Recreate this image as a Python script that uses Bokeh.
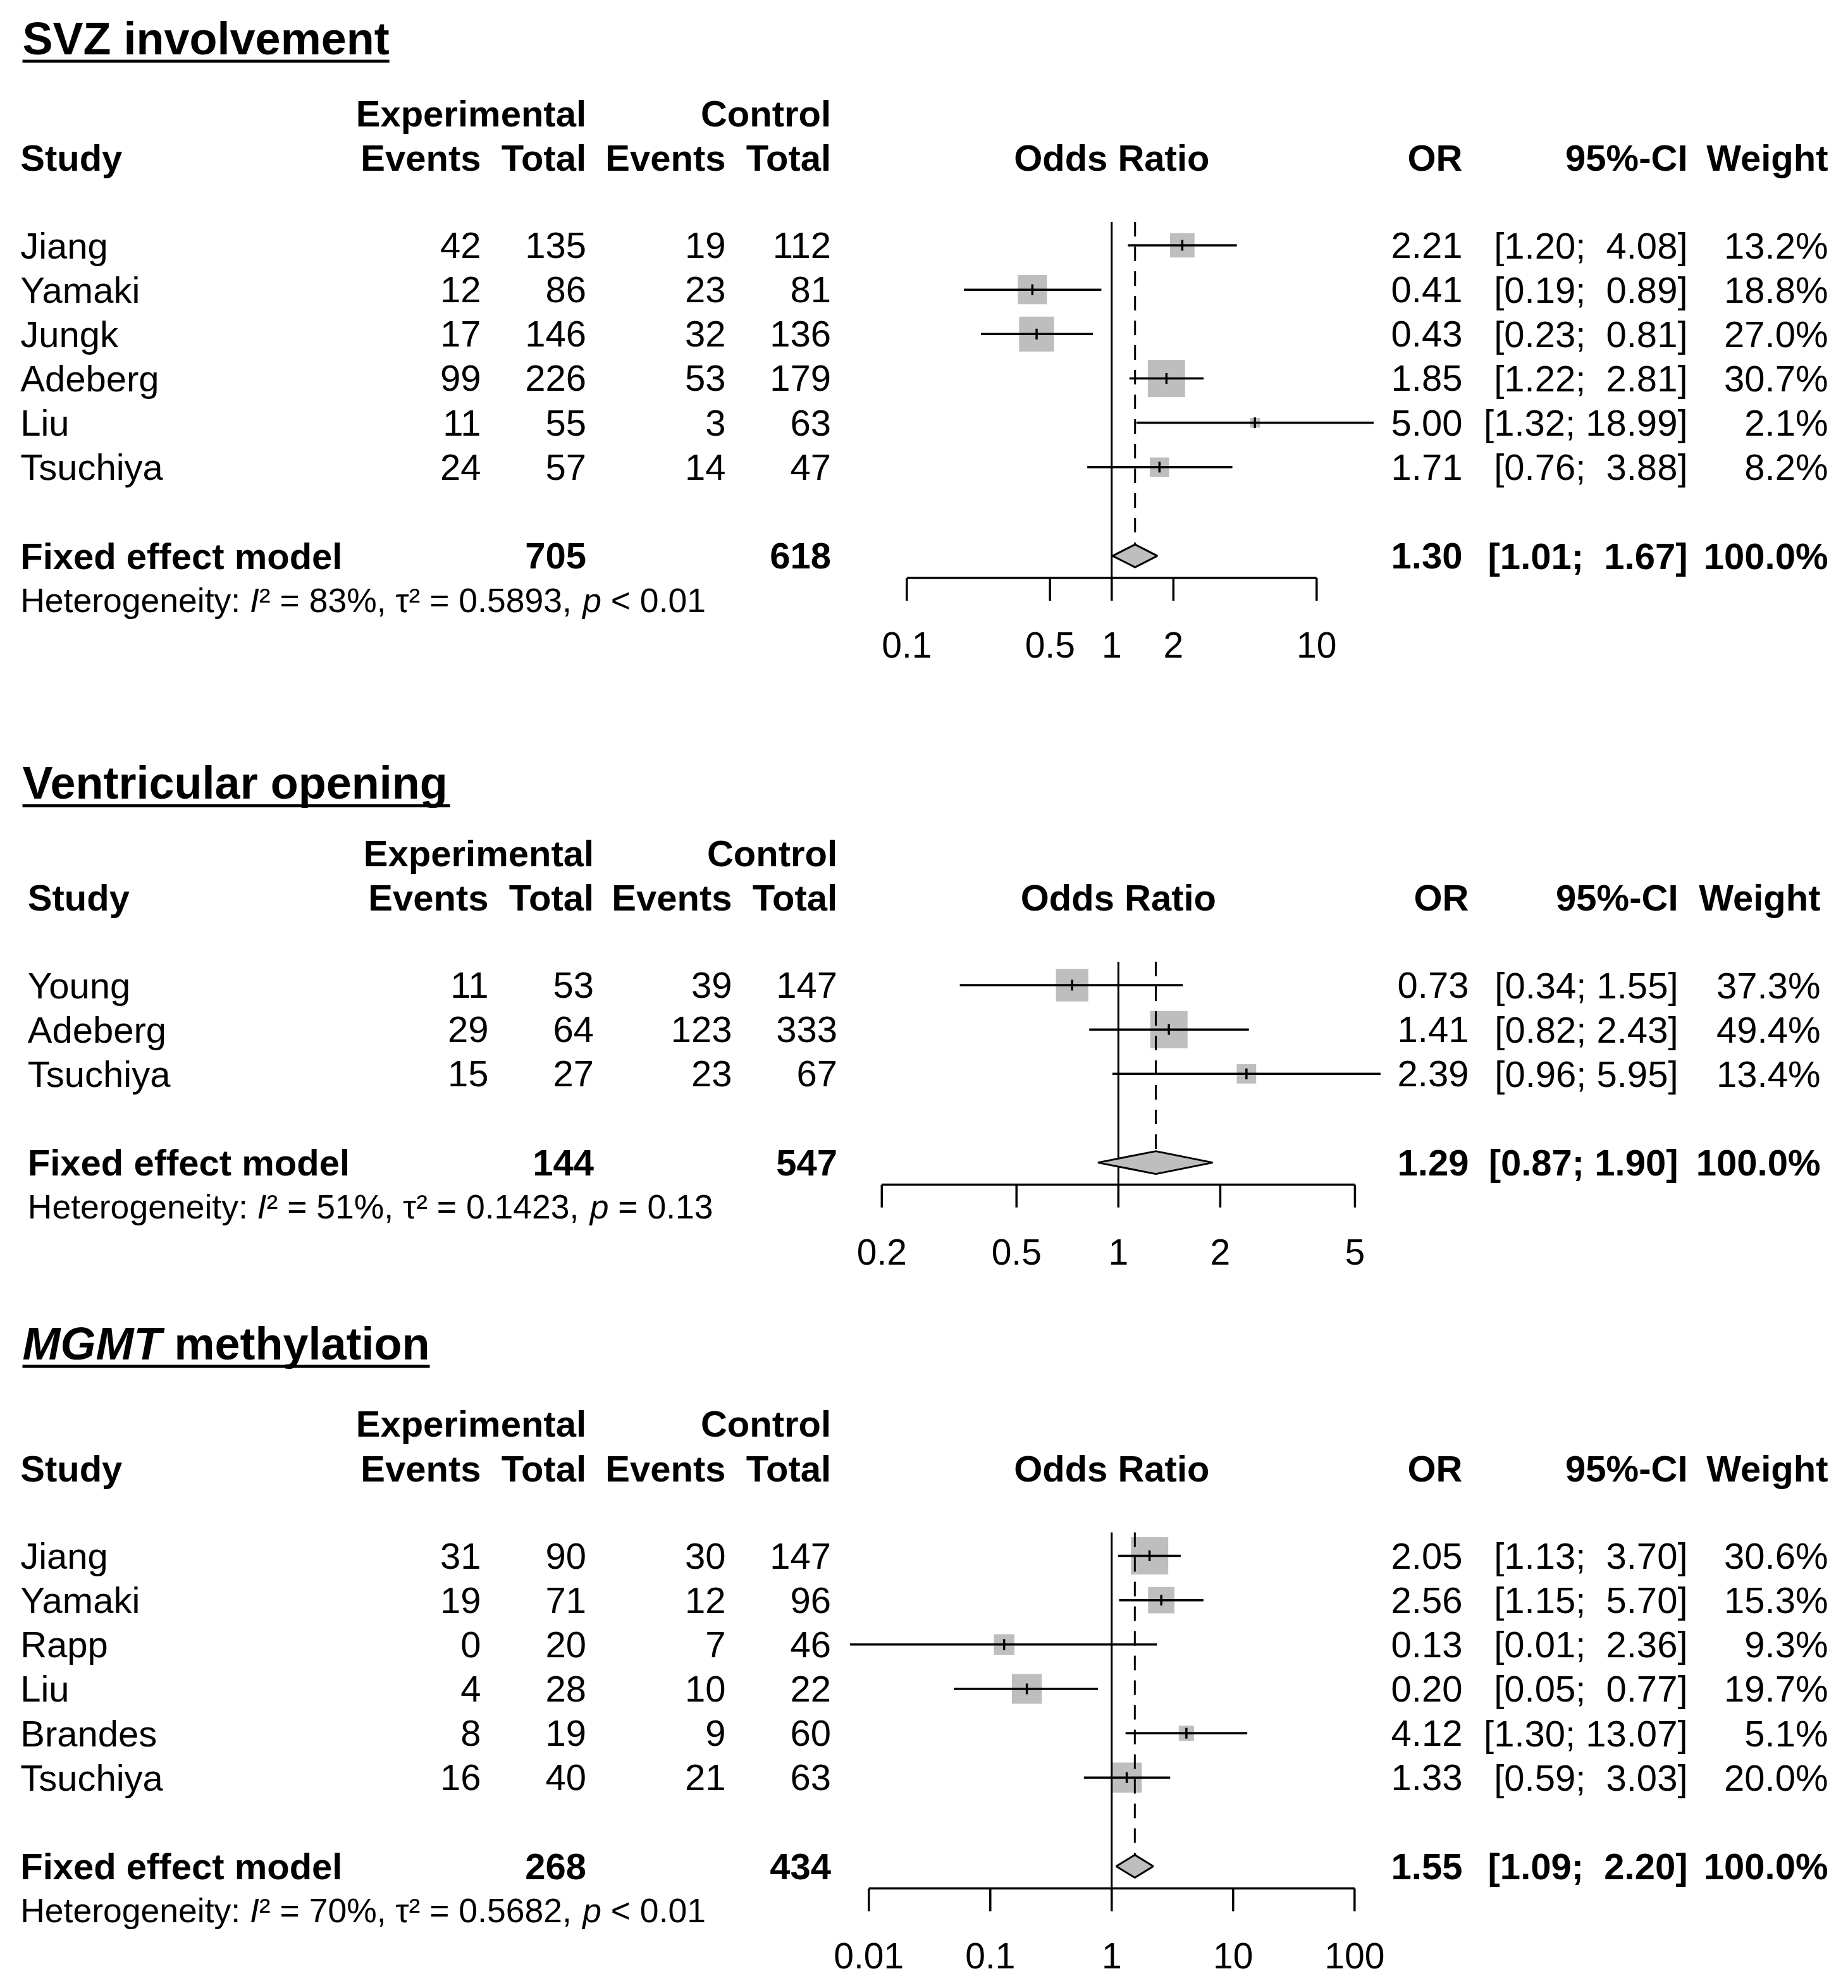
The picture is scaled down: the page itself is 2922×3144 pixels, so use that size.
import math
from bokeh.plotting import figure
from bokeh.models import Range1d, LogScale
from bokeh.core.properties import value
from bokeh.embed import file_html
from bokeh.resources import INLINE

# ---------------- data ----------------
# Panel 1: SVZ involvement
svz_study = ["Jiang", "Yamaki", "Jungk", "Adeberg", "Liu", "Tsuchiya"]
svz_exp_events = [42, 12, 17, 99, 11, 24]
svz_exp_total = [135, 86, 146, 226, 55, 57]
svz_ctl_events = [19, 23, 32, 53, 3, 14]
svz_ctl_total = [112, 81, 136, 179, 63, 47]
svz_or = [2.21, 0.41, 0.43, 1.85, 5.00, 1.71]
svz_lo = [1.20, 0.19, 0.23, 1.22, 1.32, 0.76]
svz_hi = [4.08, 0.89, 0.81, 2.81, 18.99, 3.88]
svz_weight = [13.2, 18.8, 27.0, 30.7, 2.1, 8.2]
svz_fixed = [1.30, 1.01, 1.67]
svz_n = [705, 618]
svz_het = [83, "0.5893", "< 0.01"]
svz_ticks = [0.1, 0.5, 1, 2, 10]
svz_tick_labels = ["0.1", "0.5", "1", "2", "10"]

# Panel 2: Ventricular opening
vent_study = ["Young", "Adeberg", "Tsuchiya"]
vent_exp_events = [11, 29, 15]
vent_exp_total = [53, 64, 27]
vent_ctl_events = [39, 123, 23]
vent_ctl_total = [147, 333, 67]
vent_or = [0.73, 1.41, 2.39]
vent_lo = [0.34, 0.82, 0.96]
vent_hi = [1.55, 2.43, 5.95]
vent_weight = [37.3, 49.4, 13.4]
vent_fixed = [1.29, 0.87, 1.90]
vent_n = [144, 547]
vent_het = [51, "0.1423", "= 0.13"]
vent_ticks = [0.2, 0.5, 1, 2, 5]
vent_tick_labels = ["0.2", "0.5", "1", "2", "5"]

# Panel 3: MGMT methylation
mgmt_study = ["Jiang", "Yamaki", "Rapp", "Liu", "Brandes", "Tsuchiya"]
mgmt_exp_events = [31, 19, 0, 4, 8, 16]
mgmt_exp_total = [90, 71, 20, 28, 19, 40]
mgmt_ctl_events = [30, 12, 7, 10, 9, 21]
mgmt_ctl_total = [147, 96, 46, 22, 60, 63]
mgmt_or = [2.05, 2.56, 0.13, 0.20, 4.12, 1.33]
mgmt_lo = [1.13, 1.15, 0.007, 0.05, 1.30, 0.59]
mgmt_hi = [3.70, 5.70, 2.36, 0.77, 13.07, 3.03]
mgmt_weight = [30.6, 15.3, 9.3, 19.7, 5.1, 20.0]
mgmt_fixed = [1.55, 1.09, 2.20]
mgmt_n = [268, 434]
mgmt_het = [70, "0.5682", "< 0.01"]
mgmt_ticks = [0.01, 0.1, 1, 10, 100]
mgmt_tick_labels = ["0.01", "0.1", "1", "10", "100"]

# ---------------- layout / style ----------------
W, H = 2920, 3140
RH = 70.15
FONT = value("Liberation Sans")
FS, FS_HET, FS_TITLE, FS_TICK = 58, 53.5, 72, 57
GRAY = "#BEBEBE"
MAX_SQ = 59
LW = 3.5

REG = {' ': 278, '%': 889, ',': 278, '.': 278, ':': 278, '<': 584, '=': 584,
       'H': 722, 'I': 278, 'e': 556, 't': 278, 'r': 333, 'o': 556, 'g': 556,
       'n': 556, 'i': 222, 'y': 500, 'p': 556, '\u00b2': 333, '\u03c4': 440}
BOLD = {' ': 278, 'S': 667, 'V': 667, 'Z': 611, 'M': 833, 'G': 778, 'T': 611,
        'i': 278, 'n': 611, 'v': 556, 'o': 611, 'l': 278, 'e': 556, 'm': 889,
        't': 333, 'c': 556, 'u': 611, 'a': 556, 'r': 389, 'p': 611, 'g': 611,
        'h': 611, 'y': 556}


def tw(s, fs, table):
    return sum(table.get(c, 556) for c in s) / 1000.0 * fs


p = figure(width=W, height=H, x_range=Range1d(0, W), y_range=Range1d(H, 0),
           output_backend="svg", toolbar_location=None, min_border=0,
           x_axis_location=None, y_axis_location=None)
p.grid.visible = False
p.outline_line_color = None
p.background_fill_color = "white"
p.border_fill_color = "white"


def txt(xs, ys, texts, align="left", size=FS, style="normal", rn="default"):
    p.text(x=xs, y=ys, text=texts, text_align=align,
           text_baseline="middle", text_font=FONT, text_font_size=value(f"{size}px"),
           text_font_style=style, text_color="black", x_range_name=rn)


panels = [
    dict(name="or1", title=[("SVZ involvement", "bold")], title_y=60, first=387.5,
         cols=(31.7, 760, 926.5, 1147, 1313.6, 2312, 2668, 2890), axis=(1433.3, 2081.3),
         study=svz_study, ee=svz_exp_events, et=svz_exp_total, ce=svz_ctl_events,
         ct=svz_ctl_total, orv=svz_or, lo=svz_lo, hi=svz_hi, w=svz_weight,
         fixed=svz_fixed, n=svz_n, het=svz_het, ticks=svz_ticks, tl=svz_tick_labels),
    dict(name="or2", title=[("Ventricular opening", "bold")], title_y=1237.5, first=1557.5,
         cols=(43.3, 772, 938.6, 1157, 1323.6, 2322, 2653, 2878), axis=(1393.8, 2141.9),
         study=vent_study, ee=vent_exp_events, et=vent_exp_total, ce=vent_ctl_events,
         ct=vent_ctl_total, orv=vent_or, lo=vent_lo, hi=vent_hi, w=vent_weight,
         fixed=vent_fixed, n=vent_n, het=vent_het, ticks=vent_ticks, tl=vent_tick_labels),
    dict(name="or3", title=[("MGMT", "bold italic"), (" methylation", "bold")], title_y=2124,
         first=2460, cols=(31.7, 760, 926.5, 1147, 1313.6, 2312, 2668, 2890),
         axis=(1373.3, 2141.3),
         study=mgmt_study, ee=mgmt_exp_events, et=mgmt_exp_total, ce=mgmt_ctl_events,
         ct=mgmt_ctl_total, orv=mgmt_or, lo=mgmt_lo, hi=mgmt_hi, w=mgmt_weight,
         fixed=mgmt_fixed, n=mgmt_n, het=mgmt_het, ticks=mgmt_ticks, tl=mgmt_tick_labels),
]

extra_ranges, extra_scales = {}, {}
for P in panels:
    v_lo, v_hi = P["ticks"][0], P["ticks"][-1]
    px_lo, px_hi = P["axis"]
    dec = (px_hi - px_lo) / (math.log10(v_hi) - math.log10(v_lo))
    start = 10 ** (math.log10(v_lo) - px_lo / dec)
    end = 10 ** (math.log10(v_lo) + (W - px_lo) / dec)
    extra_ranges[P["name"]] = Range1d(start, end)
    extra_scales[P["name"]] = LogScale()
p.extra_x_ranges = extra_ranges
p.extra_x_scales = extra_scales


def nb(s):
    return s.replace(" ", "\u00a0")


def fmt_ci(lo, hi, width):
    up = f"{hi:.2f}".rjust(width)
    return nb(f"[{lo:.2f};" + " " + up + "]")


for P in panels:
    rn = P["name"]
    c_st, c_ee, c_et, c_ce, c_ct, c_or, c_ci, c_w = P["cols"]
    n = len(P["study"])
    rows = [P["first"] + i * RH for i in range(n)]
    fy = rows[-1] + 2 * RH
    hy = fy + RH
    ay = fy + 35
    h2 = P["first"] - 138.5
    h1 = h2 - RH

    # title with underline
    tx = 35
    for s, st in P["title"]:
        txt([tx], [P["title_y"]], [nb(s)], size=FS_TITLE, style=st)
        tx += tw(s, FS_TITLE, BOLD)
    uy = P["title_y"] + 0.358 * FS_TITLE + 10.5
    p.segment(x0=[35], x1=[tx], y0=[uy], y1=[uy], line_color="black", line_width=4.5)

    # headers
    txt([c_et, c_ct], [h1, h1], ["Experimental", "Control"], align="right", style="bold")
    txt([c_st], [h2], ["Study"], style="bold")
    txt([c_ee, c_et, c_ce, c_ct, c_or, c_ci, c_w], [h2] * 7,
        ["Events", "Total", "Events", "Total", "OR", "95%-CI", "Weight"],
        align="right", style="bold")
    txt([1], [h2], [nb("Odds Ratio")], align="center", style="bold", rn=rn)

    # study rows
    txt([c_st] * n, rows, P["study"])
    for col, vals in ((c_ee, P["ee"]), (c_et, P["et"]), (c_ce, P["ce"]), (c_ct, P["ct"])):
        txt([col] * n, rows, [str(v) for v in vals], align="right")
    txt([c_or] * n, rows, [f"{v:.2f}" for v in P["orv"]], align="right")
    fo, flo, fhi = P["fixed"]
    wid = max(len(f"{v:.2f}") for v in P["hi"] + [fhi])
    txt([c_ci] * n, rows, [fmt_ci(a, b, wid) for a, b in zip(P["lo"], P["hi"])], align="right")
    txt([c_w] * n, rows, [f"{v:.1f}%" for v in P["w"]], align="right")

    # fixed effect row
    txt([c_st], [fy], [nb("Fixed effect model")], style="bold")
    txt([c_et, c_ct], [fy, fy], [str(P["n"][0]), str(P["n"][1])], align="right", style="bold")
    txt([c_or], [fy], [f"{fo:.2f}"], align="right", style="bold")
    txt([c_ci], [fy], [fmt_ci(flo, fhi, wid)], align="right", style="bold")
    txt([c_w], [fy], ["100.0%"], align="right", style="bold")

    # heterogeneity
    i2, tau2, pv = P["het"]
    pieces = [("Heterogeneity: ", "normal"), ("I", "italic"),
              (f"\u00b2 = {i2}%, \u03c4\u00b2 = {tau2}, ", "normal"), ("p", "italic"),
              (f" {pv}", "normal")]
    hx = c_st
    for s, st in pieces:
        txt([hx], [hy], [nb(s)], size=FS_HET, style=st)
        hx += tw(s, FS_HET, REG)

    # forest: squares
    wmax = max(P["w"])
    sizes = [MAX_SQ * math.sqrt(v / wmax) for v in P["w"]]
    p.scatter(x=P["orv"], y=rows, size=sizes, marker="square", fill_color=GRAY,
              line_color=None, x_range_name=rn)
    # reference lines
    top = rows[0] - RH / 2 - 2
    p.segment(x0=[1], x1=[1], y0=[top], y1=[ay], line_color="black", line_width=3,
              x_range_name=rn)
    p.segment(x0=[fo], x1=[fo], y0=[top], y1=[fy - 18], line_color="black",
              line_width=3, line_dash="23 16", x_range_name=rn)
    # CI lines and estimate ticks
    p.segment(x0=P["lo"], x1=P["hi"], y0=rows, y1=rows, line_color="black",
              line_width=LW, x_range_name=rn)
    p.segment(x0=P["orv"], x1=P["orv"], y0=[r - 8.5 for r in rows],
              y1=[r + 8.5 for r in rows], line_color="black", line_width=LW,
              x_range_name=rn)
    # diamond
    p.patch(x=[flo, fo, fhi, fo], y=[fy, fy - 18, fy, fy + 18], fill_color=GRAY,
            line_color="black", line_width=3, x_range_name=rn)
    # axis
    tk = P["ticks"]
    p.segment(x0=[tk[0]], x1=[tk[-1]], y0=[ay], y1=[ay], line_color="black",
              line_width=LW, x_range_name=rn)
    p.segment(x0=tk, x1=tk, y0=[ay] * len(tk), y1=[ay + 36] * len(tk),
              line_color="black", line_width=LW, x_range_name=rn)
    txt(tk, [ay + 106] * len(tk), P["tl"], align="center", size=FS_TICK, rn=rn)

open("out.html", "w").write(file_html(p, INLINE))
